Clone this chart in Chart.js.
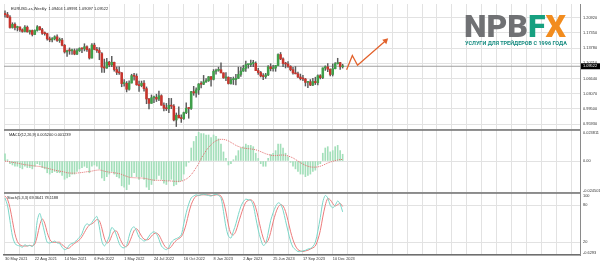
<!DOCTYPE html>
<html>
<head>
  <meta charset="utf-8">
  <title>EURUSD Weekly</title>
  <script src="https://cdn.jsdelivr.net/npm/chart.js"></script>
  <style>
    body { margin: 0; background: #fff; }
    #wrap { position: relative; width: 600px; height: 263px; overflow: hidden; }
    #logo { position: absolute; left: 464px; top: 10px; font-family: Roboto, "Liberation Sans", sans-serif;
            font-weight: 900; font-size: 32px; line-height: 32px; letter-spacing: 0; white-space: nowrap; }
    #logo .n { color: #707174; }
    #logo .f { color: #17a080; }
    #logo .x { color: #f28c1e; }
    #slogan { position: absolute; left: 465px; top: 40.5px; font-family: Roboto, "Liberation Sans", sans-serif;
              font-weight: 700; font-size: 5.5px; line-height: 5.5px; color: #178c80; white-space: nowrap; }
  </style>
</head>
<body>
<div id="wrap">
  <canvas id="chart" width="600" height="263"></canvas>
  <div id="logo"><span class="n">NPB</span><span class="f">F</span><span class="x">X</span></div>
  <div id="slogan">УСЛУГИ ДЛЯ ТРЕЙДЕРОВ С 1996 ГОДА</div>
</div>

<script>
  var title = 'EURUSD-cs,Weekly  1.09404 1.09991 1.09097 1.09522';
  var macdTitle = 'MACD(12,26,9) 0.005200 0.001239';
  var stochTitle = 'Stoch(5,3,3) 69.3641 78.1188';

  // one label every 12 weekly bars, starting at bar 0
  var dateLabels = ['30 May 2021', '22 Aug 2021', '14 Nov 2021', '6 Feb 2022', '1 May 2022', '24 Jul 2022',
                    '16 Oct 2022', '8 Jan 2023', '2 Apr 2023', '25 Jun 2023', '17 Sep 2023', '10 Dec 2023'];

  var priceTicks = [1.20920, 1.17350, 1.13780, 1.10210, 1.06640, 1.03070, 0.99500, 0.95930];
  var macdTicks = [0.023811, 0, -0.024501];
  var macdTickLabels = ['0.023811', '0.00', '-0.024501'];
  var stochTicks = [100, 80, 20, -0.6293];
  var stochTickLabels = ['100', '80', '20', '-0.6293'];

  // weekly candles, bar 0 = 30 May 2021
  var openP = [
    1.2193,1.2166,1.2107,1.1864,1.1937,1.1863,1.1875,1.1810,1.1771,1.1870,
    1.1761,1.1793,1.1700,1.1794,1.1880,1.1812,1.1727,1.1719,1.1597,1.1573,
    1.1600,1.1644,1.1559,1.1567,1.1445,1.1289,1.1317,1.1315,1.1317,1.1239,
    1.1319,1.1370,1.1360,1.1411,1.1344,1.1146,1.1450,1.1349,1.1322,1.1250,
    1.0931,1.0911,1.1050,1.0983,1.1045,1.0875,1.0810,1.0798,1.0545,1.0550,
    1.0412,1.0559,1.0732,1.0718,1.0518,1.0496,1.0554,1.0426,1.0183,1.0081,
    1.0212,1.0222,1.0180,1.0260,1.0037,0.9965,0.9953,1.0035,1.0015,0.9690,
    0.9802,0.9739,0.9723,0.9862,0.9966,0.9960,1.0355,1.0325,1.0398,1.0535,
    1.0530,1.0585,1.0615,1.0705,1.0644,1.0832,1.0856,1.0870,1.0797,1.0679,
    1.0693,1.0546,1.0637,1.0640,1.0669,1.0760,1.0840,1.0903,1.0991,1.0992,
    1.1018,1.1020,1.0850,1.0805,1.0724,1.0710,1.0750,1.0940,1.0895,1.0910,
    1.0970,1.1228,1.1125,1.1017,1.1005,1.0948,1.0872,1.0795,1.0775,1.0700,
    1.0660,1.0653,1.0573,1.0588,1.0510,1.0595,1.0565,1.0730,1.0685,1.0913,
    1.0940,1.0882,1.0760,1.0895,1.1013,1.1038,1.09404
  ];
  var highP = [
    1.2254,1.2219,1.2145,1.1975,1.1975,1.1895,1.1880,1.1832,1.1909,1.1900,
    1.1805,1.1805,1.1810,1.1909,1.1885,1.1846,1.1760,1.1725,1.1640,1.1624,
    1.1669,1.1692,1.1617,1.1609,1.1464,1.1330,1.1383,1.1355,1.1360,1.1362,
    1.1386,1.1386,1.1482,1.1434,1.1369,1.1483,1.1495,1.1395,1.1390,1.1274,
    1.1121,1.1137,1.1070,1.1185,1.1053,1.0934,1.0936,1.0806,1.0642,1.0593,
    1.0607,1.0765,1.0787,1.0774,1.0601,1.0605,1.0614,1.0466,1.0200,1.0278,
    1.0254,1.0294,1.0369,1.0283,1.0090,1.0079,1.0198,1.0197,1.0051,0.9854,
    0.9999,0.9809,0.9876,1.0093,0.9976,1.0360,1.0481,1.0448,1.0545,1.0595,
    1.0737,1.0660,1.0713,1.0713,1.0875,1.0887,1.0930,1.1033,1.0799,1.0805,
    1.0705,1.0691,1.0700,1.0760,1.0930,1.0926,1.0973,1.1075,1.0997,1.1095,
    1.1092,1.1058,1.0905,1.0830,1.0779,1.0786,1.0971,1.1012,1.0976,1.0972,
    1.1245,1.1276,1.1149,1.1046,1.1064,1.0966,1.0930,1.0945,1.0815,1.0769,
    1.0737,1.0666,1.0590,1.0640,1.0668,1.0695,1.0748,1.0755,1.0918,1.0965,
    1.1017,1.0893,1.1009,1.1041,1.1140,1.1046,1.09991
  ];
  var lowP = [
    1.2104,1.2093,1.1847,1.1848,1.1807,1.1782,1.1772,1.1752,1.1760,1.1755,
    1.1706,1.1664,1.1695,1.1775,1.1800,1.1700,1.1683,1.1563,1.1529,1.1525,
    1.1571,1.1535,1.1513,1.1433,1.1262,1.1186,1.1234,1.1228,1.1222,1.1222,
    1.1300,1.1272,1.1313,1.1300,1.1121,1.1141,1.1340,1.1280,1.1106,1.0805,
    1.0806,1.0900,1.0945,1.0945,1.0837,1.0757,1.0760,1.0471,1.0483,1.0349,
    1.0390,1.0557,1.0627,1.0505,1.0358,1.0469,1.0366,1.0072,0.9952,1.0080,
    1.0097,1.0123,1.0142,1.0034,0.9900,0.9910,0.9864,0.9956,0.9670,0.9535,
    0.9737,0.9632,0.9705,0.9840,0.9730,0.9935,1.0270,1.0223,1.0290,1.0443,
    1.0520,1.0575,1.0595,1.0483,1.0630,1.0766,1.0835,1.0795,1.0669,1.0612,
    1.0533,1.0532,1.0524,1.0516,1.0664,1.0713,1.0831,1.0832,1.0908,1.0941,
    1.0942,1.0848,1.0760,1.0701,1.0635,1.0667,1.0733,1.0844,1.0834,1.0834,
    1.0964,1.1107,1.0944,1.0912,1.0924,1.0845,1.0766,1.0773,1.0686,1.0631,
    1.0616,1.0488,1.0448,1.0496,1.0495,1.0522,1.0516,1.0655,1.0658,1.0852,
    1.0827,1.0723,1.0723,1.0888,1.1003,1.0877,1.09097
  ];
  var closeP = [
    1.2166,1.2107,1.1864,1.1937,1.1863,1.1875,1.1810,1.1771,1.1870,1.1761,
    1.1793,1.1700,1.1794,1.1880,1.1812,1.1727,1.1719,1.1597,1.1573,1.1600,
    1.1644,1.1559,1.1567,1.1445,1.1289,1.1317,1.1315,1.1317,1.1239,1.1319,
    1.1370,1.1360,1.1411,1.1344,1.1146,1.1450,1.1349,1.1322,1.1269,1.0931,
    1.0911,1.1050,1.0983,1.1045,1.0875,1.0810,1.0798,1.0545,1.0550,1.0412,
    1.0559,1.0732,1.0718,1.0518,1.0496,1.0554,1.0426,1.0183,1.0081,1.0212,
    1.0222,1.0180,1.0260,1.0037,0.9965,0.9953,1.0035,1.0015,0.9690,0.9802,
    0.9739,0.9723,0.9862,0.9966,0.9960,1.0355,1.0325,1.0398,1.0535,1.0530,
    1.0585,1.0615,1.0705,1.0644,1.0832,1.0856,1.0870,1.0797,1.0679,1.0693,
    1.0546,1.0637,1.0640,1.0669,1.0760,1.0840,1.0903,1.0991,1.0992,1.1018,
    1.1020,1.0850,1.0805,1.0724,1.0710,1.0750,1.0940,1.0895,1.0910,1.0970,
    1.1228,1.1125,1.1017,1.1005,1.0948,1.0872,1.0795,1.0775,1.0700,1.0660,
    1.0653,1.0573,1.0588,1.0510,1.0595,1.0565,1.0730,1.0685,1.0913,1.0940,
    1.0882,1.0760,1.0895,1.1013,1.1038,1.0941,1.09522
  ];

  // hand drawn forecast arrow (bar position, price)
  var forecastX = [137.6, 139.9, 142.0, 153.3];
  var forecastY = [1.0872, 1.1205, 1.0974, 1.1553];

  var macdHist = [
    0.0056,0.001,-0.002,-0.003,-0.004,-0.004,-0.005,-0.006,-0.004,-0.005,
    -0.005,-0.006,-0.004,-0.002,-0.003,-0.005,-0.006,-0.009,-0.010,-0.009,
    -0.008,-0.009,-0.009,-0.011,-0.014,-0.013,-0.012,-0.010,-0.010,-0.008,
    -0.006,-0.005,-0.004,-0.005,-0.009,-0.004,-0.003,-0.004,-0.006,-0.013,
    -0.015,-0.012,-0.010,-0.008,-0.010,-0.012,-0.013,-0.019,-0.020,-0.022,
    -0.018,-0.012,-0.009,-0.012,-0.014,-0.012,-0.014,-0.020,-0.022,-0.018,
    -0.015,-0.014,-0.011,-0.014,-0.017,-0.018,-0.015,-0.014,-0.019,-0.018,
    -0.016,-0.015,-0.010,-0.004,-0.001,0.010,0.015,0.019,0.022,0.021,
    0.021,0.020,0.020,0.018,0.020,0.019,0.017,0.013,0.007,0.002,
    -0.003,-0.002,0.001,0.004,0.008,0.010,0.011,0.013,0.012,0.012,
    0.011,0.006,0.002,-0.002,-0.004,-0.004,0.002,0.005,0.006,0.008,
    0.013,0.013,0.010,0.006,0.003,-0.001,-0.004,-0.006,-0.008,-0.010,
    -0.010,-0.012,-0.011,-0.010,-0.008,-0.007,-0.003,-0.002,0.006,0.010,
    0.011,0.007,0.008,0.011,0.012,0.008,0.0052
  ];
  var macdSignal = [
    0.0000,-0.0003,-0.0006,-0.0010,-0.0013,-0.0016,-0.0020,-0.0024,-0.0028,-0.0030,
    -0.0033,-0.0036,-0.0038,-0.0040,-0.0042,-0.0045,-0.0050,-0.0055,-0.0060,-0.0065,
    -0.0070,-0.0074,-0.0078,-0.0080,-0.0085,-0.0090,-0.0092,-0.0093,-0.0093,-0.0092,
    -0.0090,-0.0088,-0.0085,-0.0082,-0.0080,-0.0077,-0.0073,-0.0070,-0.0068,-0.0072,
    -0.0078,-0.0082,-0.0085,-0.0088,-0.0090,-0.0093,-0.0096,-0.0103,-0.0110,-0.0118,
    -0.0124,-0.0127,-0.0128,-0.0129,-0.0130,-0.0130,-0.0132,-0.0135,-0.0140,-0.0144,
    -0.0147,-0.0148,-0.0148,-0.0148,-0.0150,-0.0152,-0.0153,-0.0153,-0.0155,-0.0156,
    -0.0156,-0.0155,-0.0148,-0.0138,-0.0125,-0.0105,-0.0080,-0.0050,-0.0020,0.0020,
    0.0050,0.0080,0.0105,0.0125,0.0143,0.0155,0.0163,0.0167,0.0166,0.0162,
    0.0154,0.0143,0.0132,0.0120,0.0112,0.0105,0.0100,0.0097,0.0095,0.0093,
    0.0090,0.0086,0.0080,0.0072,0.0064,0.0056,0.0050,0.0045,0.0042,0.0042,
    0.0044,0.0046,0.0046,0.0044,0.0039,0.0032,0.0024,0.0012,0.0000,-0.0012,
    -0.0023,-0.0033,-0.0040,-0.0045,-0.0047,-0.0047,-0.0045,-0.0040,-0.0033,-0.0024,
    -0.0015,-0.0008,-0.0002,0.0003,0.0008,0.0011,0.0012
  ];

  var stochMain = [
    92,80,55,30,18,15,14,12,16,14,
    15,13,22,55,67,52,35,20,19,20,
    22,19,18,12,8,10,16,18,20,24,
    28,34,45,50,48,52,58,62,45,22,
    14,20,30,44,40,30,18,12,11,15,
    30,42,45,38,28,25,22,24,30,35,
    37,34,25,14,10,8,12,20,24,26,
    28,32,50,68,82,92,95,97,96,97,
    98,97,96,95,97,98,96,92,70,45,
    30,27,38,50,65,78,86,90,89,88,
    80,60,40,25,15,18,35,55,68,78,
    84,82,72,55,38,22,12,8,5,5,
    6,7,9,10,13,20,38,60,85,96,
    92,80,76,80,87,82,69.36
  ];
  var stochSignal = [
    95,90,76,55,34,21,16,14,14,14,
    15,14,17,30,48,58,51,36,25,20,
    20,20,20,16,13,10,11,15,18,21,
    24,29,36,43,48,50,53,57,55,43,
    27,19,21,31,38,38,29,20,14,13,
    19,29,39,42,37,30,25,24,25,30,
    34,35,32,24,16,11,10,13,19,23,
    26,29,37,50,67,81,90,95,96,97,
    97,97,97,96,96,97,97,95,86,69,
    48,34,32,38,51,64,76,85,88,89,
    86,76,60,42,27,19,23,36,53,67,
    77,81,79,70,55,38,24,14,8,6,
    5,6,7,9,11,14,24,39,61,80,
    91,89,83,79,81,83,78.12
  ];

  var lastClose = closeP[closeP.length - 1];
  var bullColor = '#3f9f4a', bearColor = '#c8342c';
  var axisFont = { family: 'Liberation Sans', size: 3.9 };

  var wicks = [], bodies = [], bodyColors = [], histData = [], sigData = [], kData = [], dData = [], arrowData = [];
  for (var i = 0; i < closeP.length; i++) {
    wicks.push({ x: i, y: [lowP[i], highP[i]] });
    bodies.push({ x: i, y: [openP[i], closeP[i]] });
    bodyColors.push(closeP[i] >= openP[i] ? bullColor : bearColor);
    histData.push({ x: i, y: macdHist[i] });
    sigData.push({ x: i, y: macdSignal[i] });
    kData.push({ x: i, y: stochMain[i] });
    dData.push({ x: i, y: stochSignal[i] });
  }
  for (var j = 0; j < forecastX.length; j++) arrowData.push({ x: forecastX[j], y: forecastY[j] });

  var xMin = -0.4, xMax = 231.6;
  var gridBars = [];
  for (var g = 0; g <= xMax; g += 6) gridBars.push(g);

  function noPad(scale) {
    scale.paddingTop = 0; scale.paddingBottom = 0; scale.paddingLeft = 0; scale.paddingRight = 0;
  }

  var panelPlugin = {
    id: 'panels',
    afterDraw: function (chart) {
      var ctx = chart.ctx, area = chart.chartArea, s = chart.scales;
      ctx.save();
      // panel separators
      ctx.strokeStyle = '#6e6e6e';
      ctx.lineWidth = 1.5;
      [s.macd.top, s.stoch.top].forEach(function (y) {
        ctx.beginPath(); ctx.moveTo(area.left, y); ctx.lineTo(area.right, y); ctx.stroke();
      });
      ctx.font = '3.9px "Liberation Sans"';
      ctx.textBaseline = 'middle';
      ctx.fillStyle = '#333';
      // indicator scale labels, kept inside their window
      [[s.macd, macdTicks, macdTickLabels], [s.stoch, stochTicks, stochTickLabels]].forEach(function (p) {
        p[1].forEach(function (v, k) {
          var y = p[0].getPixelForValue(v);
          y = Math.min(Math.max(y, p[0].top + 3), p[0].bottom - 2.5);
          ctx.fillText(p[2][k], area.right + 3, y);
        });
      });
      // current price tag
      var py = s.y.getPixelForValue(lastClose);
      ctx.fillStyle = '#000';
      ctx.fillRect(area.right + 1, py - 3, 20, 6);
      ctx.fillStyle = '#fff';
      ctx.fillText(lastClose.toFixed(5), area.right + 3, py);
      // window titles
      ctx.fillStyle = '#222';
      ctx.fillText(title, area.left + 7, s.y.top + 5);
      ctx.fillText(macdTitle, area.left + 5, s.macd.top + 4.5);
      ctx.fillText(stochTitle, area.left + 3, s.stoch.top + 4.5);
      ctx.restore();
    }
  };

  var ctx = document.getElementById('chart').getContext('2d');
  var chart = new Chart(ctx, {
    type: 'bar',
    data: {
      datasets: [
        { type: 'line', data: [{ x: xMin, y: lastClose }, { x: xMax, y: lastClose }], yAxisID: 'y',
          borderColor: '#a0a0a0', borderWidth: 1, pointRadius: 0, order: 5 },
        { data: wicks, yAxisID: 'y', backgroundColor: '#5a5a5a', barThickness: 0.8, grouped: false, order: 4 },
        { data: bodies, yAxisID: 'y', backgroundColor: bodyColors, barThickness: 1.9, minBarLength: 1,
          grouped: false, order: 3 },
        { type: 'line', data: arrowData, yAxisID: 'y', borderColor: '#e2622c', borderWidth: 1.3,
          pointRadius: [0, 0, 0, 3.5], pointStyle: 'triangle', pointRotation: 48,
          pointBackgroundColor: '#e2622c', pointBorderWidth: 0, order: 1 },
        { data: histData, yAxisID: 'macd', backgroundColor: '#a3dfba', barThickness: 1, grouped: false, order: 4 },
        { type: 'line', data: sigData, yAxisID: 'macd', borderColor: '#e26a6a', borderWidth: 1,
          borderDash: [1, 1], pointRadius: 0, order: 1 },
        { type: 'line', data: dData, yAxisID: 'stoch', borderColor: '#ec7b7b', borderWidth: 1,
          pointRadius: 0, tension: 0.3, order: 2 },
        { type: 'line', data: kData, yAxisID: 'stoch', borderColor: '#7bd6c8', borderWidth: 1,
          pointRadius: 0, tension: 0.3, order: 1 }
      ]
    },
    options: {
      responsive: false,
      animation: false,
      events: [],
      layout: { padding: 0 },
      plugins: { legend: { display: false }, tooltip: { enabled: false } },
      scales: {
        x: {
          type: 'linear', min: xMin, max: xMax, offset: false,
          grid: { color: '#e2e2e2', lineWidth: 1, drawTicks: false, offset: false },
          border: { color: '#6e6e6e', width: 1.5 },
          afterBuildTicks: function (scale) { scale.ticks = gridBars.map(function (v) { return { value: v }; }); },
          afterFit: function (scale) { scale.height = 8; noPad(scale); },
          ticks: {
            autoSkip: false, maxRotation: 0, minRotation: 0, align: 'start', padding: 1.5,
            color: '#333', font: axisFont,
            callback: function (v) { return v % 12 === 0 ? (dateLabels[v / 12] || '') : ''; }
          }
        },
        y: {
          type: 'linear', position: 'right', stack: 'panels', stackWeight: 128,
          min: 0.9454, max: 1.2416, beginAtZero: false,
          grid: { color: '#e2e2e2', drawTicks: false },
          border: { color: '#8a8a8a' },
          afterBuildTicks: function (scale) { scale.ticks = priceTicks.map(function (v) { return { value: v }; }); },
          afterFit: function (scale) { scale.width = 20; noPad(scale); },
          ticks: { color: '#333', font: axisFont, padding: 3,
                   callback: function (v) { return v.toFixed(5); } }
        },
        macd: {
          type: 'linear', position: 'right', stack: 'panels', stackWeight: 64,
          min: -0.024501, max: 0.023811, beginAtZero: false,
          grid: { color: '#e2e2e2', drawTicks: false },
          border: { color: '#8a8a8a' },
          afterBuildTicks: function (scale) { scale.ticks = macdTicks.map(function (v) { return { value: v }; }); },
          afterFit: function (scale) { scale.width = 20; noPad(scale); },
          ticks: { display: false }
        },
        stoch: {
          type: 'linear', position: 'right', stack: 'panels', stackWeight: 63,
          min: -0.6293, max: 100, beginAtZero: false,
          grid: { color: '#e2e2e2', drawTicks: false },
          border: { color: '#8a8a8a' },
          afterBuildTicks: function (scale) { scale.ticks = stochTicks.map(function (v) { return { value: v }; }); },
          afterFit: function (scale) { scale.width = 20; noPad(scale); },
          ticks: { display: false }
        }
      }
    },
    plugins: [panelPlugin]
  });
</script>
</body>
</html>
